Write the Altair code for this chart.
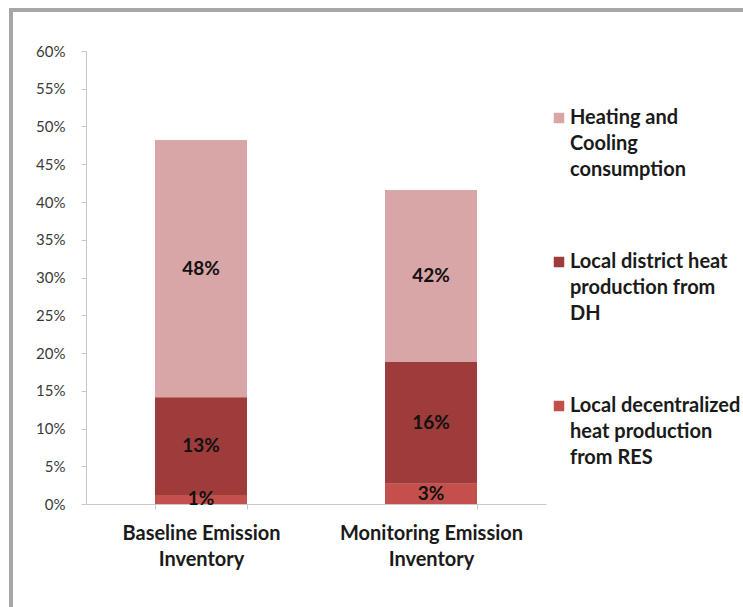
import altair as alt
import pandas as pd

# Share of emissions by heat source, per inventory (percent)
categories = ["Baseline Emission Inventory", "Monitoring Emission Inventory"]
series = [
    "Heating and Cooling consumption",
    "Local district heat production from DH",
    "Local decentralized heat production from RES",
]
res_share = [1.2, 2.7]
dh_share = [12.9, 16.1]
heating_share = [48.2, 41.6]
y_ticks = [0, 5, 10, 15, 20, 25, 30, 35, 40, 45, 50, 55, 60]
colors = ["#d9a6a7", "#9d3c3b", "#c4504e"]

rows = []
for i, cat in enumerate(categories):
    res, dh, heat = res_share[i], dh_share[i], heating_share[i]
    # heating bar spans the full height and sits behind the stacked production bars
    rows.append(dict(cat=cat, series=series[0], start=0, end=heat, value=heat,
                     mid=(res + dh + heat) / 2))
    rows.append(dict(cat=cat, series=series[1], start=res, end=res + dh, value=dh,
                     mid=res + dh / 2))
    rows.append(dict(cat=cat, series=series[2], start=0, end=res, value=res,
                     mid=res / 2))
df = pd.DataFrame(rows)

FONT = "Lato"
W, H = 460, 453

x_scale = alt.Scale(paddingInner=0.6, paddingOuter=0.3)
y_scale = alt.Scale(domain=[0, 60], nice=False)

x_axis = alt.Axis(
    labelAngle=0, labelFont=FONT, labelFontSize=20, labelFontWeight="bold",
    labelColor="#1a1a1a", labelLineHeight=26, labelBaseline="top",
    labelPadding=14, tickBand="extent", tickSize=5, tickColor="#c8c8c8",
    domainColor="#c8c8c8", labelLimit=300,
    labelExpr="datum.label ? [replace(datum.label, ' Inventory', ''), 'Inventory'] : ''",
)
y_axis = alt.Axis(
    values=y_ticks, grid=False, labelFont=FONT, labelFontSize=15,
    labelFontWeight="normal", labelColor="#3a3a3a",
    labelExpr="datum.value + '%'", labelLineHeight=15, labelOverlap=False,
    tickSize=5, tickColor="#c8c8c8", domainColor="#c8c8c8", labelPadding=16,
)

legend_lines = (
    "datum.label == 'Heating and Cooling consumption' ? ['Heating and', 'Cooling', 'consumption'] : "
    "datum.label == 'Local district heat production from DH' ? ['Local district heat', 'production from', 'DH'] : "
    "['Local decentralized', 'heat production', 'from RES']"
)

bars = alt.Chart(df).mark_bar().encode(
    x=alt.X("cat:N", sort=categories, title=None, scale=x_scale, axis=x_axis),
    y=alt.Y("end:Q", scale=y_scale, title=None, axis=y_axis),
    y2="start:Q",
    color=alt.Color(
        "series:N", scale=alt.Scale(domain=series, range=colors), title=None,
        legend=alt.Legend(
            orient="none", legendX=463, legendY=57, direction="vertical",
            symbolType="square", symbolSize=110, symbolStrokeWidth=0,
            labelFont=FONT, labelFontSize=20, labelFontWeight="bold",
            labelColor="#1a1a1a", labelLimit=300,
            labelBaseline="middle", labelOffset=1, rowPadding=72,
            labelExpr=legend_lines,
        ),
    ),
)

labels = alt.Chart(df).transform_calculate(
    txt="format(datum.value, '.0f') + '%'"
).mark_text(
    font=FONT, fontSize=19, fontWeight="bold", color="#111111", baseline="middle"
).encode(
    x=alt.X("cat:N", sort=categories, title=None, scale=x_scale, axis=x_axis),
    y=alt.Y("mid:Q", scale=y_scale, title=None, axis=y_axis),
    text="txt:N",
)

# grey frame along the top and left edges
frame_top = alt.Chart(df).mark_rule(color="#a6a6a6", strokeWidth=4).encode(
    x=alt.value(-76), x2=alt.value(700), y=alt.value(-41)
)
frame_left = alt.Chart(df).mark_rule(color="#a6a6a6", strokeWidth=4).encode(
    x=alt.value(-75), y=alt.value(-43), y2=alt.value(600)
)

chart = (
    alt.layer(bars, labels, frame_top, frame_left)
    .properties(
        width=W, height=H,
        autosize=alt.AutoSizeParams(type="none"),
        padding={"left": 86, "top": 51, "right": 197, "bottom": 103},
    )
    .configure(
        background="white",
        view={"stroke": "transparent", "strokeWidth": 0},
        style={"guide-label": {"lineHeight": 26}},
    )
)

chart.save("out.html", embed_options={"renderer": "svg", "actions": False})
